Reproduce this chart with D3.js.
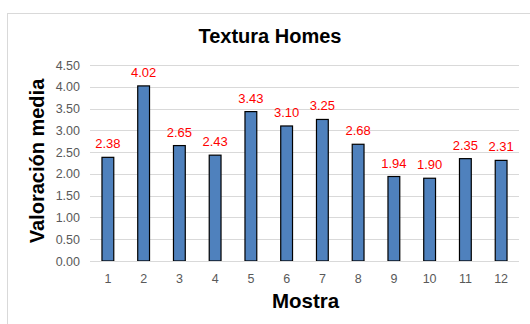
<!DOCTYPE html>
<html>
<head>
<meta charset="utf-8">
<script src="https://cdn.jsdelivr.net/npm/d3@7"></script>
<style>
  html, body { margin: 0; padding: 0; background: #fff; }
  svg { display: block; font-family: "Liberation Sans", Arial, sans-serif; }
</style>
</head>
<body>
<svg id="chart" width="530" height="324"></svg>
<script>
// Sample numbers and mean texture ratings
const categories = ["1", "2", "3", "4", "5", "6", "7", "8", "9", "10", "11", "12"];
const values = [2.38, 4.02, 2.65, 2.43, 3.43, 3.10, 3.25, 2.68, 1.94, 1.90, 2.35, 2.31];
const yTicks = [0, 0.5, 1, 1.5, 2, 2.5, 3, 3.5, 4, 4.5];

const svg = d3.select("#chart");
const margin = { left: 90, right: 519, top: 65, bottom: 261 };

// Chart frame
svg.append("rect")
  .attr("x", 7.5).attr("y", 13.5)
  .attr("width", 540).attr("height", 340)
  .attr("fill", "#fff").attr("stroke", "#d9d9d9").attr("stroke-width", 1);

const x = d3.scaleBand().domain(categories).range([margin.left, margin.right]).paddingInner(0.67).paddingOuter(0.335);
const y = d3.scaleLinear().domain([0, 4.5]).range([margin.bottom, margin.top]);

// Gridlines
svg.append("g")
  .selectAll("line")
  .data(yTicks.filter(d => d > 0))
  .join("line")
  .attr("x1", margin.left).attr("x2", margin.right)
  .attr("y1", d => Math.round(y(d)) + 0.5).attr("y2", d => Math.round(y(d)) + 0.5)
  .attr("stroke", "#d9d9d9").attr("stroke-width", 1);

// Y axis labels
const yAxis = d3.axisLeft(y).tickValues(yTicks).tickFormat(d3.format(".2f")).tickSize(0).tickPadding(10);
const gy = svg.append("g").attr("transform", `translate(${margin.left},0)`).call(yAxis);
gy.select(".domain").remove();
gy.selectAll("text").attr("fill", "#595959").style("font-size", "12.5px")
  .style("font-family", "'Liberation Sans', Arial, sans-serif");

// Bars
svg.append("g")
  .selectAll("rect")
  .data(values)
  .join("rect")
  .attr("x", (d, i) => x(categories[i]))
  .attr("y", d => y(d))
  .attr("width", x.bandwidth())
  .attr("height", d => y(0) - y(d))
  .attr("fill", "#4f81bd")
  .attr("stroke", "#000").attr("stroke-width", 1.2);

// Baseline
svg.append("line")
  .attr("x1", margin.left).attr("x2", margin.right)
  .attr("y1", y(0) + 0.5).attr("y2", y(0) + 0.5)
  .attr("stroke", "#d9d9d9").attr("stroke-width", 1.2);

// X axis labels
const xAxis = d3.axisBottom(x).tickSize(0).tickPadding(13);
const gx = svg.append("g").attr("transform", `translate(0,${margin.bottom})`).call(xAxis);
gx.select(".domain").remove();
gx.selectAll("text").attr("fill", "#595959").style("font-size", "12.5px")
  .style("font-family", "'Liberation Sans', Arial, sans-serif");

// Value labels
svg.append("g")
  .selectAll("text")
  .data(values)
  .join("text")
  .attr("x", (d, i) => x(categories[i]) + x.bandwidth() / 2)
  .attr("y", d => y(d) - 9)
  .attr("text-anchor", "middle")
  .attr("fill", "#ff0000")
  .style("font-size", "13px")
  .text(d => d.toFixed(2));

// Titles
svg.append("text")
  .attr("x", 270).attr("y", 43)
  .attr("text-anchor", "middle")
  .style("font-size", "20px").style("font-weight", "bold")
  .attr("fill", "#000")
  .text("Textura Homes");

svg.append("text")
  .attr("x", (margin.left + margin.right) / 2 + 1).attr("y", 308)
  .attr("text-anchor", "middle")
  .style("font-size", "20.5px").style("font-weight", "bold")
  .attr("fill", "#000")
  .text("Mostra");

svg.append("text")
  .attr("transform", `translate(44,161) rotate(-90)`)
  .attr("text-anchor", "middle")
  .style("font-size", "20px").style("font-weight", "bold")
  .attr("fill", "#000")
  .text("Valoración media");
</script>
</body>
</html>
